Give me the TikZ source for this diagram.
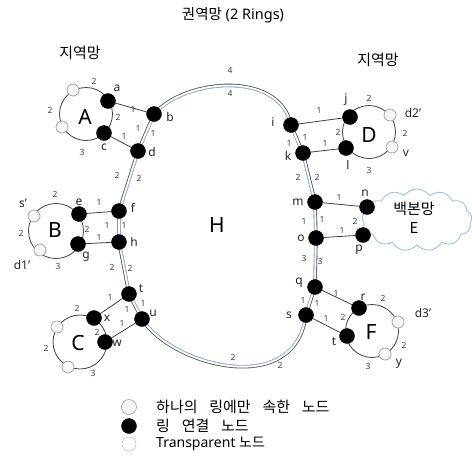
\documentclass[tikz,border=0pt]{standalone}
\usepackage{fontspec}
\setmainfont{Noto Sans}
\newfontfamily\kr{Noto Sans CJK KR}[WordSpace=3.5]
\usetikzlibrary{shapes.symbols}
\pgfdeclarelayer{bg}
\pgfsetlayers{bg,main}
\definecolor{lc}{HTML}{404040}
\definecolor{rdark}{HTML}{505560}
\definecolor{rblue}{HTML}{9DBAD8}
\definecolor{cloudc}{HTML}{9DC3E6}
\tikzset{
 bn/.style={circle, fill=black, draw=black, minimum size=15pt, inner sep=0pt},
 wn/.style={circle, fill=gray!6, draw=gray!75, line width=0.7pt, minimum size=12pt, inner sep=0pt},
 num/.style={font=\fontsize{8.5}{10}\selectfont, text=lc, inner sep=0pt},
 lab/.style={font=\fontsize{12}{14}\selectfont, text=black!85, inner sep=0pt},
 big/.style={font=\fontsize{21}{24}\selectfont, inner sep=0pt},
 krtext/.style={font=\kr\fontsize{15}{17}\selectfont, inner sep=0pt},
 link/.style={draw=lc, line width=0.8pt},
 loopline/.style={draw=lc, line width=0.8pt},
}
\begin{document}
\begin{tikzpicture}[x=1pt,y=-1pt]
\useasboundingbox (0,0) rectangle (472,456);
% ring centres
\coordinate (cA) at (86,114);
\coordinate (cB) at (56,231);
\coordinate (cC) at (80,342);
\coordinate (cD) at (369,132);
\coordinate (cF) at (372,331);
% nodes
\node[bn] (a) at (108,101) {};
\node[bn] (b) at (154,114) {};
\node[bn] (c) at (104,133) {};
\node[bn] (d) at (138,151) {};
\node[wn] (wa1) at (73,90) {};
\node[wn] (wa2) at (62,127) {};
\node[bn] (e) at (79,214) {};
\node[bn] (f) at (119,211) {};
\node[bn] (g) at (78,244) {};
\node[bn] (h) at (119,242) {};
\node[wn] (wb1) at (34,216) {};
\node[wn] (wb2) at (40,250) {};
\node[bn] (t) at (129,294) {};
\node[bn] (u) at (142,319) {};
\node[bn] (x) at (94,318) {};
\node[bn] (w) at (105,342) {};
\node[wn] (wc1) at (57,327) {};
\node[wn] (wc2) at (68,367) {};
\node[bn] (i) at (291,125) {};
\node[bn] (j) at (350,117) {};
\node[bn] (k) at (303,153) {};
\node[bn] (l) at (346,148) {};
\node[wn] (wd1) at (390,115) {};
\node[wn] (wd2) at (392,147) {};
\node[bn] (m) at (315,202) {};
\node[bn] (n) at (367,207) {};
\node[bn] (o) at (316,238) {};
\node[bn] (p) at (363,235) {};
\node[bn] (q) at (315,287) {};
\node[bn] (r) at (359,308) {};
\node[bn] (s) at (306,315) {};
\node[bn] (tt) at (347,336) {};
\node[wn] (wf1) at (398,322) {};
\node[wn] (wf2) at (385,354) {};
\def\ringpath{(b.center) -- (d.center) -- (f.center) -- (h.center) -- (t.center) -- (u.center) .. controls (170,365) and (295,400) .. (s.center) -- (q.center) -- (o.center) -- (m.center) -- (k.center) -- (i.center) .. controls (280,70) and (185,78) .. (b.center) -- cycle}
\begin{pgfonlayer}{bg}
\draw[line width=3.4pt, draw=rdark, line join=round] \ringpath;
\begin{scope}
\clip \ringpath;
\draw[line width=3.4pt, draw=rblue, line join=round] \ringpath;
\end{scope}
\draw[line width=1.7pt, draw=white, line join=round] \ringpath;
% links
\draw[link] (a) -- (b);
\draw[link] (c) -- (d);
\draw[link] (e) -- (f);
\draw[link] (g) -- (h);
\draw[link] (t) -- (x);
\draw[link] (u) -- (w);
\draw[link] (i) -- (j);
\draw[link] (k) -- (l);
\draw[link] (m) -- (n);
\draw[link] (o) -- (p);
\draw[link] (q) -- (r);
\draw[link] (s) -- (tt);
% loops
\draw[loopline] (cA) circle[radius=26.5];
\draw[loopline] (cB) circle[radius=27.5];
\draw[loopline] (cC) circle[radius=27];
\draw[loopline] (cD) circle[radius=26.5];
\draw[loopline] (cF) circle[radius=26.5];
% cloud
\node[cloud, cloud puffs=13, cloud puff arc=110, aspect=1.9, draw=cloudc, line width=0.9pt, fill=white, minimum width=110pt, minimum height=62pt] (E) at (417,220) {};
\end{pgfonlayer}
\node[font=\kr\fontsize{15}{19}\selectfont, align=center, inner sep=0pt] (Et) at (414,218) {백본망\\E};
% titles
\node[inner sep=0pt, font=\fontsize{14.5}{17}\selectfont] (title) at (233,15) {{\kr 권역망} (2 Rings)};
\node[krtext] (rl) at (80,53) {지역망};
\node[krtext] (rr) at (378,60) {지역망};
% big labels
\node[big] (LA) at (85,117) {A};
\node[big] (LB) at (55,230) {B};
\node[big] (LC) at (78,343) {C};
\node[big] (LD) at (369,135) {D};
\node[big] (LF) at (371,332) {F};
\node[big] (LH) at (217,225) {H};
% node labels
\node[lab] (la) at (117,88) {a};
\node[lab] (lb) at (170,117) {b};
\node[lab] (lcc) at (104,147) {c};
\node[lab] (ld) at (152,152) {d};
\node[lab] (le) at (79,202) {e};
\node[lab] (lf) at (133,208) {f};
\node[lab] (lg) at (86,257) {g};
\node[lab] (lh) at (134,242) {h};
\node[lab] (lsp) at (23,203) {s’};
\node[lab] (ld1) at (22,265) {d1’};
\node[lab] (lt) at (141,289) {t};
\node[lab] (lu) at (153,313) {u};
\node[lab] (lx) at (107,318) {x};
\node[lab] (lw) at (117,343) {w};
\node[lab] (li) at (273,122) {i};
\node[lab] (lj) at (346,100) {j};
\node[lab] (lk) at (288,156) {k};
\node[lab] (ll) at (348,165) {l};
\node[lab] (ld2) at (413,113) {d2’};
\node[lab] (lv) at (406,153) {v};
\node[lab] (lm) at (298,202) {m};
\node[lab] (ln) at (365,193) {n};
\node[lab] (lo) at (301,238) {o};
\node[lab] (lp) at (359,250) {p};
\node[lab] (lq) at (299,283) {q};
\node[lab] (lr) at (363,297) {r};
\node[lab] (ls) at (289,315) {s};
\node[lab] (ltt) at (334,342) {t};
\node[lab] (ld3) at (423,313) {d3’};
\node[lab] (ly) at (399,364) {y};
% numbers
\foreach \px/\py/\tx in {94/81/2, 50/110/2, 82/152/3, 118/117/2, 133/109/1, 124/136/1, 138/128/1, 153/133/1,
  230/70/4, 230/93/4, 117/175/2, 139/178/2,
  55/194/2, 21/233/2, 58/266/3, 87/229/2, 99/202/1, 99/237/1, 107/225/1, 124/225/1,
  112/267/2, 130/268/2,
  77/308/2, 46/348/2, 93/373/3, 97/332/2, 110/297/1, 127/309/1, 143/303/1, 122/323/1,
  233/357/2, 280/365/2,
  369/98/2, 405/133/2, 369/170/3, 338/132/2, 319/110/1, 325/143/1, 289/143/1, 305/137/1,
  298/177/2, 317/177/2, 339/197/1, 304/221/1, 322/219/1, 342/230/1, 355/221/2,
  304/258/3, 320/261/3, 336/293/1, 303/300/1, 317/303/1, 326/318/1, 343/317/2,
  383/298/2, 404/345/2, 368/366/3}
  \node[num] at (\px,\py) {\tx};
% legend
\node[circle, fill=gray!6, draw=gray!70, line width=0.7pt, minimum size=15pt, inner sep=0pt] (lg1) at (129,407) {};
\node[bn] (lg2) at (129,426) {};
\node[circle, fill=white, draw=gray!55, line width=0.5pt, minimum size=14pt, inner sep=0pt] (lg3) at (129,444) {};
\node[krtext, anchor=west] (lt1) at (156,407) {하나의 링에만 속한 노드};
\node[krtext, anchor=west] (lt2) at (156,426) {링 연결 노드};
\node[inner sep=0pt, font=\fontsize{14}{17}\selectfont, anchor=west] (lt3) at (156,444) {Transparent {\kr 노드}};
\end{tikzpicture}
\end{document}
